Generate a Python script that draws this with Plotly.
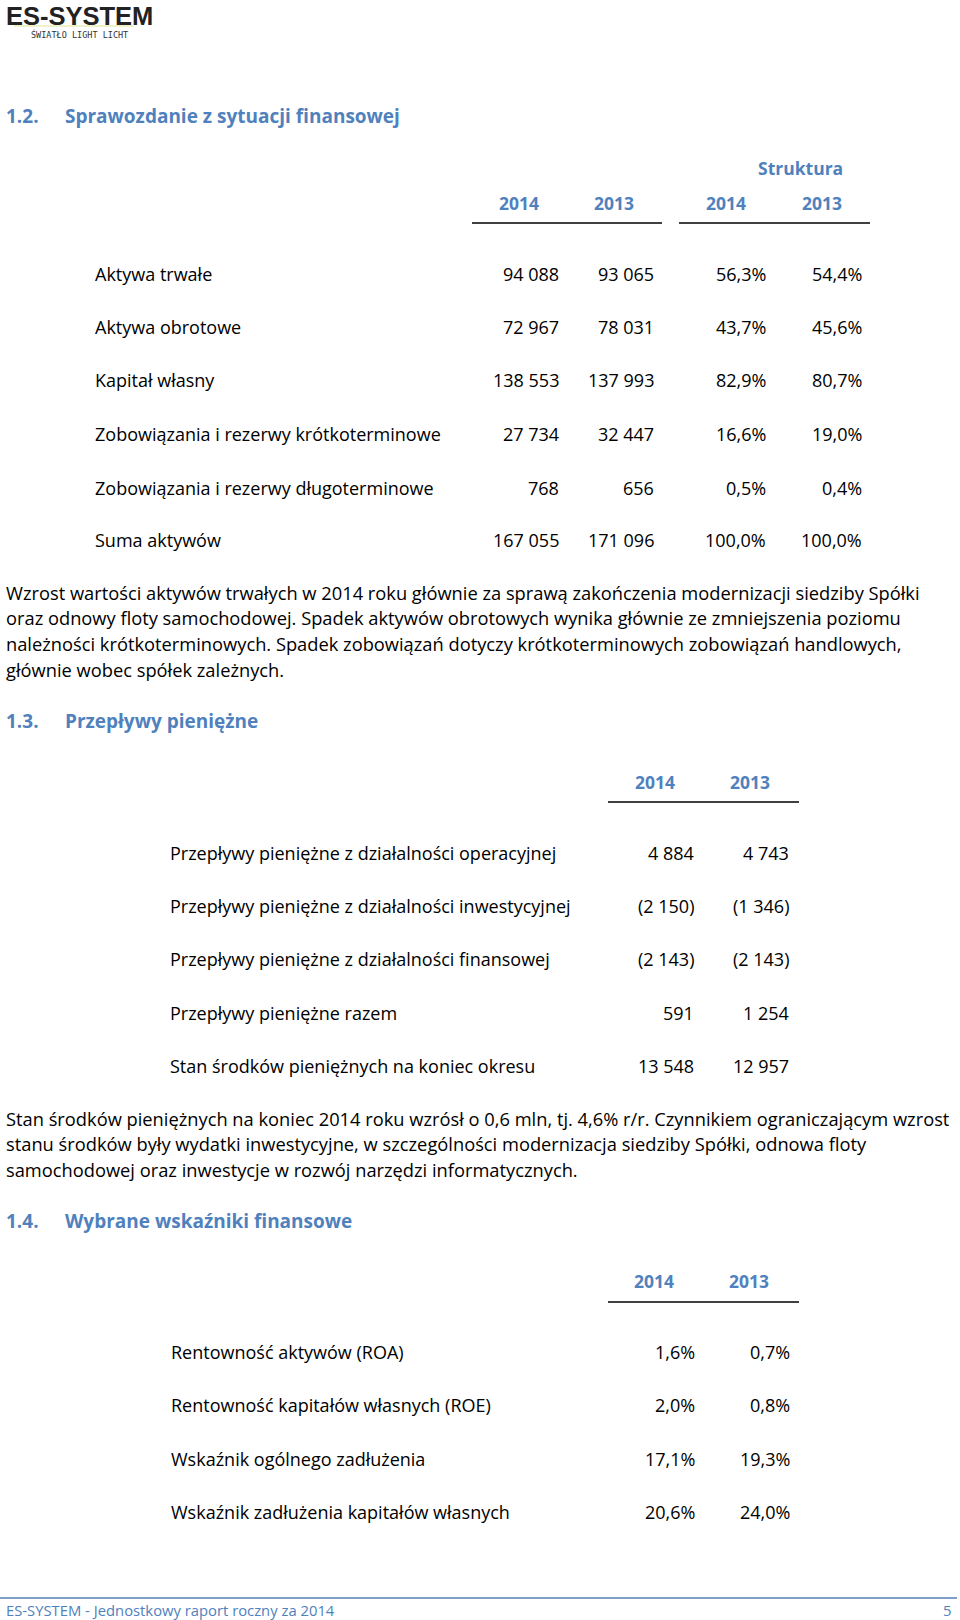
import plotly.graph_objects as go

BLUE = '#4F81BD'
FONT = 'Open Sans'

# --- 1.2 balance sheet
bal_labels = ['Aktywa trwałe', 'Aktywa obrotowe', 'Kapitał własny',
              'Zobowiązania i rezerwy krótkoterminowe',
              'Zobowiązania i rezerwy długoterminowe', 'Suma aktywów']
bal_2014 = ['94 088', '72 967', '138 553', '27 734', '768', '167 055']
bal_2013 = ['93 065', '78 031', '137 993', '32 447', '656', '171 096']
str_2014 = ['56,3%', '43,7%', '82,9%', '16,6%', '0,5%', '100,0%']
str_2013 = ['54,4%', '45,6%', '80,7%', '19,0%', '0,4%', '100,0%']

bal_text = [
    'Wzrost wartości aktywów trwałych w 2014 roku głównie za sprawą zakończenia modernizacji siedziby Spółki',
    'oraz odnowy floty samochodowej. Spadek aktywów obrotowych wynika głównie ze zmniejszenia poziomu',
    'należności krótkoterminowych. Spadek zobowiązań dotyczy krótkoterminowych zobowiązań handlowych,',
    'głównie wobec spółek zależnych.',
]

# --- 1.3 cash flow
cf_labels = ['Przepływy pieniężne z działalności operacyjnej',
             'Przepływy pieniężne z działalności inwestycyjnej',
             'Przepływy pieniężne z działalności finansowej',
             'Przepływy pieniężne razem',
             'Stan środków pieniężnych na koniec okresu']
cf_2014 = ['4 884', '(2 150)', '(2 143)', '591', '13 548']
cf_2013 = ['4 743', '(1 346)', '(2 143)', '1 254', '12 957']

cf_text = [
    'Stan środków pieniężnych na koniec 2014 roku wzrósł o 0,6 mln, tj. 4,6% r/r. Czynnikiem ograniczającym wzrost',
    'stanu środków były wydatki inwestycyjne, w szczególności modernizacja siedziby Spółki, odnowa floty',
    'samochodowej oraz inwestycje w rozwój narzędzi informatycznych.',
]

# --- 1.4 ratios
rat_labels = ['Rentowność aktywów (ROA)', 'Rentowność kapitałów własnych (ROE)',
              'Wskaźnik ogólnego zadłużenia', 'Wskaźnik zadłużenia kapitałów własnych']
rat_2014 = ['1,6%', '2,0%', '17,1%', '20,6%']
rat_2013 = ['0,7%', '0,8%', '19,3%', '24,0%']

years = ['2014', '2013']

fig = go.Figure()
ann = []
shapes = []


def txt(x, y, s, size=18, color='#000', anchor='left', bold=False, family=FONT):
    if bold:
        s = '<b>' + s + '</b>'
    ann.append(dict(x=x, y=y, xref='x', yref='y', text=s, showarrow=False,
                    xanchor=anchor, yanchor='middle',
                    font=dict(family=family, size=size, color=color)))


def hline(x0, x1, y, color='#000', width=1.5):
    shapes.append(dict(type='line', xref='x', yref='y', x0=x0, x1=x1, y0=y, y1=y,
                       line=dict(color=color, width=width)))


# logo
hline(14, 134, 26, color='#eef2c8', width=2)
txt(4, 16, 'ES-SYSTEM', size=25.5, color='#222', bold=True, family='Liberation Sans')
txt(29, 34, 'ŚWIATŁO LIGHT LICHT', size=8.5, color='#333', family='DejaVu Sans Mono')

# section 1.2
txt(4, 116, '1.2.', size=19, color=BLUE, bold=True)
txt(63, 116, 'Sprawozdanie z sytuacji finansowej', size=19, color=BLUE, bold=True)
txt(845, 168, 'Struktura', size=17.5, color=BLUE, bold=True, anchor='right')
for x, y in zip([519, 614, 726, 822], years * 2):
    txt(x, 203, y, size=17.5, color=BLUE, bold=True, anchor='center')
hline(472, 662, 223)
hline(679, 870, 223)

row_y = [274, 327, 380, 434, 488, 540]
for i, lab in enumerate(bal_labels):
    y = row_y[i]
    txt(93, y, lab)
    txt(561, y, bal_2014[i], anchor='right')
    txt(656, y, bal_2013[i], anchor='right')
    txt(768, y, str_2014[i], anchor='right')
    txt(864, y, str_2013[i], anchor='right')

for i, line in enumerate(bal_text):
    txt(4, 592 + i * 25.7, line, size=18.3)

# section 1.3
txt(4, 721, '1.3.', size=19, color=BLUE, bold=True)
txt(63, 721, 'Przepływy pieniężne', size=19, color=BLUE, bold=True)
txt(655, 782, years[0], size=17.5, color=BLUE, bold=True, anchor='center')
txt(750, 782, years[1], size=17.5, color=BLUE, bold=True, anchor='center')
hline(608, 799, 802)

cf_y = [853, 906, 959, 1013, 1066]
for i, lab in enumerate(cf_labels):
    txt(168, cf_y[i], lab)
    txt(696, cf_y[i], cf_2014[i], anchor='right')
    txt(791, cf_y[i], cf_2013[i], anchor='right')

for i, line in enumerate(cf_text):
    txt(4, 1118 + i * 25.7, line, size=18.3)

# section 1.4
txt(4, 1221, '1.4.', size=19, color=BLUE, bold=True)
txt(63, 1221, 'Wybrane wskaźniki finansowe', size=19, color=BLUE, bold=True)
txt(654, 1281, years[0], size=17.5, color=BLUE, bold=True, anchor='center')
txt(749, 1281, years[1], size=17.5, color=BLUE, bold=True, anchor='center')
hline(608, 799, 1302)

rat_y = [1352, 1405, 1459, 1512]
for i, lab in enumerate(rat_labels):
    txt(169, rat_y[i], lab)
    txt(697, rat_y[i], rat_2014[i], anchor='right')
    txt(792, rat_y[i], rat_2013[i], anchor='right')

# footer
hline(0, 957, 1598, color='#7f9fc8', width=2)
txt(4, 1610, 'ES-SYSTEM - Jednostkowy raport roczny za 2014', size=14.8, color=BLUE)
txt(953, 1610, '5', size=14.8, color=BLUE, anchor='right')

fig.update_layout(
    width=960, height=1620,
    margin=dict(l=0, r=0, t=0, b=0),
    paper_bgcolor='white', plot_bgcolor='white',
    xaxis=dict(range=[0, 960], visible=False, fixedrange=True),
    yaxis=dict(range=[1620, 0], visible=False, fixedrange=True),
    annotations=ann, shapes=shapes, showlegend=False,
)
fig.write_html('out.html', config={'displayModeBar': False},
               post_script="document.body.style.margin='0';")
